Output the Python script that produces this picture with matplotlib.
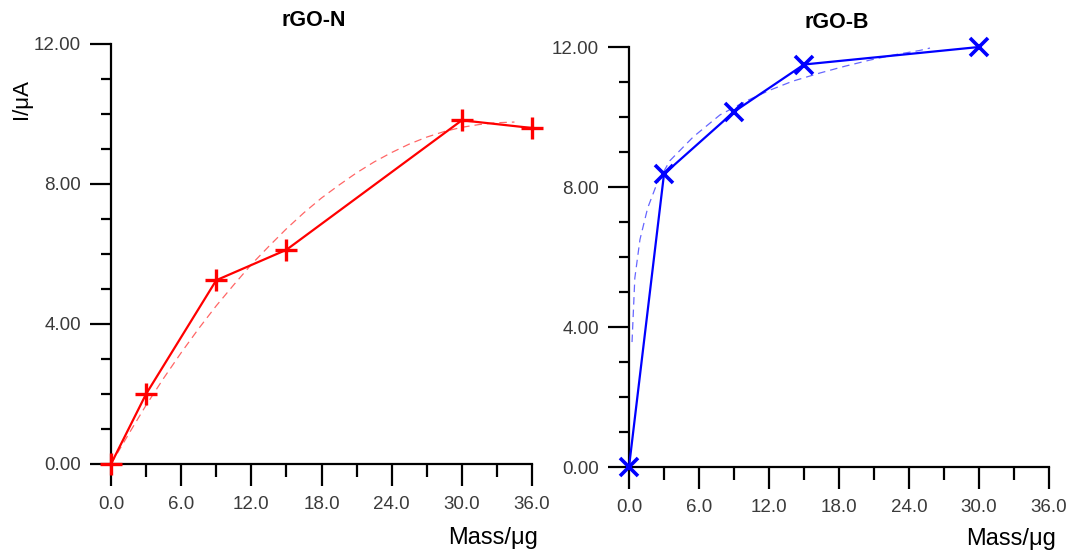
import matplotlib
matplotlib.use("Agg")
import matplotlib.pyplot as plt
from matplotlib.ticker import MultipleLocator, FormatStrFormatter

plt.rcParams['font.family'] = ['Liberation Sans', 'DejaVu Sans']

# Measured current vs. deposited mass
mass_n = [0, 3, 9, 15, 30, 36]
current_n = [0.0, 2.0, 5.25, 6.12, 9.82, 9.6]

mass_b = [0, 3, 9, 15, 30]
current_b = [0.0, 8.37, 10.15, 11.5, 12.0]

# Fitted trend curves
fit_mass_n = [0, 1.5, 3, 4.5, 6, 7.5, 9, 10.5, 12, 13.5, 15, 16.5, 18, 19.5,
              21, 22.5, 24, 25.5, 27, 28.5, 30, 31.5, 33, 34.5]
fit_current_n = [0.0, 0.85, 1.68, 2.45, 3.18, 3.87, 4.52, 5.12, 5.7, 6.22,
                 6.72, 7.18, 7.6, 7.97, 8.32, 8.63, 8.9, 9.14, 9.34, 9.5,
                 9.62, 9.7, 9.75, 9.77]

fit_mass_b = [0.26, 0.5, 0.94, 1.6, 2.4, 3.5, 5.5, 7.8, 10, 12.1, 14, 16.4,
              18.5, 20.7, 22.8, 24.9, 25.8]
fit_current_b = [3.57, 5.4, 6.5, 7.4, 8.1, 8.75, 9.43, 10.06, 10.45, 10.77,
                 11.02, 11.26, 11.45, 11.63, 11.78, 11.9, 11.97]

titles = ["rGO-N", "rGO-B"]
x_label = "Mass/\u03bcg"
y_label = "I/\u03bcA"

W, H = 1066, 550
fig = plt.figure(figsize=(W / 100, H / 100), dpi=100)

def px_axes(x0, x1, y_top, y_bot):
    return fig.add_axes([x0 / W, 1 - y_bot / H, (x1 - x0) / W, (y_bot - y_top) / H])

ax_n = px_axes(111, 532, 44, 464)
ax_b = px_axes(629, 1049, 47, 467)

tick_color = "#3a3a3a"

def style(ax):
    ax.set_xlim(0, 36)
    ax.set_ylim(0, 12)
    for s in ("top", "right"):
        ax.spines[s].set_visible(False)
    for s in ("left", "bottom"):
        ax.spines[s].set_linewidth(1.6)
        ax.spines[s].set_color("black")
    ax.xaxis.set_major_locator(MultipleLocator(6))
    ax.xaxis.set_minor_locator(MultipleLocator(3))
    ax.yaxis.set_major_locator(MultipleLocator(4))
    ax.yaxis.set_minor_locator(MultipleLocator(1))
    ax.xaxis.set_major_formatter(FormatStrFormatter("%.1f"))
    ax.yaxis.set_major_formatter(FormatStrFormatter("%.2f"))
    ax.tick_params(axis="x", which="major", direction="out", length=16, width=1.6,
                   pad=7, labelsize=13.5, labelcolor=tick_color)
    ax.tick_params(axis="x", which="minor", direction="out", length=9, width=1.6)
    ax.tick_params(axis="y", which="major", direction="out", length=15, width=1.6,
                   pad=6.5, labelsize=13.5, labelcolor=tick_color)
    ax.tick_params(axis="y", which="minor", direction="out", length=7.5, width=1.6)

style(ax_n)
style(ax_b)

# rGO-N
ax_n.plot(fit_mass_n, fit_current_n, color="red", lw=0.9, alpha=0.6,
          dashes=(6, 4), clip_on=False, zorder=2)
ax_n.plot(mass_n, current_n, color="red", lw=1.6, marker="+", markersize=16,
          markeredgewidth=2.4, clip_on=False, zorder=3)

# rGO-B
ax_b.plot(fit_mass_b, fit_current_b, color="blue", lw=0.9, alpha=0.6,
          dashes=(6, 4), clip_on=False, zorder=2)
ax_b.plot(mass_b, current_b, color="blue", lw=1.6, marker="x", markersize=13,
          markeredgewidth=2.6, clip_on=False, zorder=3)

# Titles and axis labels
fig.text(314 / W, 1 - 20 / H, titles[0], ha="center", va="center",
         fontsize=15.5, fontweight="bold")
fig.text(837 / W, 1 - 22 / H, titles[1], ha="center", va="center",
         fontsize=15.5, fontweight="bold")
fig.text(493 / W, 1 - 538 / H, x_label, ha="center", va="center", fontsize=17)
fig.text(1011 / W, 1 - 539 / H, x_label, ha="center", va="center", fontsize=17)
fig.text(21 / W, 1 - 99 / H, y_label, ha="center", va="center", fontsize=16,
         rotation=90)

fig.savefig("out.png", dpi=100)
